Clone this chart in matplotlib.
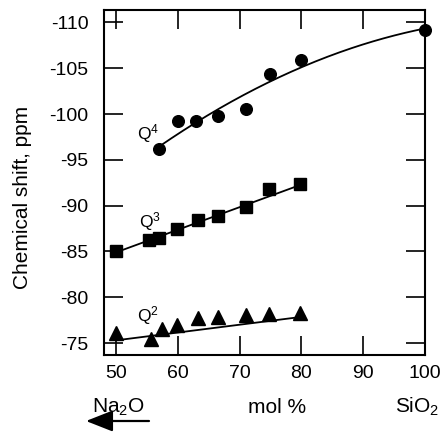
import numpy as np
import matplotlib
matplotlib.use("Agg")
import matplotlib.pyplot as plt

plt.rcParams['font.family'] = ['Liberation Sans', 'DejaVu Sans']
plt.rcParams['mathtext.fontset'] = 'custom'
plt.rcParams['mathtext.rm'] = 'Liberation Sans'
plt.rcParams['mathtext.it'] = 'Liberation Sans'
plt.rcParams['mathtext.default'] = 'regular'
plt.rcParams['axes.unicode_minus'] = False

# ---- data (mol % SiO2 vs chemical shift, ppm) ----
q4_x = [57, 60, 63, 66.5, 71, 75, 80, 100]
q4_y = [-96.2, -99.2, -99.2, -99.8, -100.6, -104.4, -105.9, -109.2]
q3_x = [50, 55.3, 57, 59.8, 63.3, 66.5, 71, 74.8, 79.8]
q3_y = [-85.0, -86.3, -86.5, -87.4, -88.4, -88.9, -89.8, -91.8, -92.4]
q2_x = [50, 55.6, 57.5, 59.8, 63.3, 66.5, 71, 74.8, 79.8]
q2_y = [-76.1, -75.4, -76.5, -77.0, -77.7, -77.8, -78.1, -78.2, -78.3]

# trend lines
q4_fit_x = [57, 67.2, 72.8, 80, 90, 100]
q4_fit_y = [-96.6, -100.6, -102.6, -105.3, -107.8, -109.2]
q3_fit_x = [50, 80]
q3_fit_y = [-84.9, -92.3]
q2_fit_x = [50, 80.5]
q2_fit_y = [-75.3, -77.9]

x_ticks = [50, 60, 70, 80, 90, 100]
y_ticks = [-110, -105, -100, -95, -90, -85, -80, -75]
y_tick_labels = ["-110", "-105", "-100", "-95", "-90", "-85", "-80", "-75"]

W, H = 444, 433
fig = plt.figure(figsize=(W / 100, H / 100), dpi=100)
ax = fig.add_axes([104 / W, 1 - 355 / H, (425 - 104) / W, (355 - 10) / H])

# Q4 quadratic trend
c4 = np.polyfit(q4_fit_x, q4_fit_y, 2)
xs = np.linspace(q4_fit_x[0], q4_fit_x[-1], 200)
ax.plot(xs, np.polyval(c4, xs), color='black', lw=1.3, zorder=2)
ax.plot(q3_fit_x, q3_fit_y, color='black', lw=1.3, zorder=2)
ax.plot(q2_fit_x, q2_fit_y, color='black', lw=1.3, zorder=2)

ax.plot(q4_x, q4_y, 'o', color='black', ms=8.4, zorder=3, clip_on=False)
ax.plot(q3_x, q3_y, 's', color='black', ms=8.0, zorder=3, clip_on=False)
ax.plot(q2_x, q2_y, '^', color='black', ms=10, zorder=3, clip_on=False)

ax.text(55.2, -97.9, r'Q$^4$', fontsize=12.5, ha='center', va='center')
ax.text(55.5, -88.3, r'Q$^3$', fontsize=12.5, ha='center', va='center')
ax.text(55.2, -78.0, r'Q$^2$', fontsize=12.5, ha='center', va='center')

ax.set_xlim(48.06, 100)
ax.set_ylim(-73.7, -111.35)
ax.set_xticks(x_ticks)
ax.set_xticklabels([str(v) for v in x_ticks])
ax.set_yticks(y_ticks)
ax.set_yticklabels(y_tick_labels)

ax.tick_params(axis='both', direction='in', length=13.5, width=1.2,
               top=True, right=True, labelsize=14, colors='black')
ax.tick_params(axis='y', pad=11)
ax.tick_params(axis='x', pad=7)
for s in ax.spines.values():
    s.set_linewidth(1.5)

fig.text(22 / W, 235.5 / H, 'Chemical shift, ppm', rotation=90,
         ha='center', va='center', fontsize=15)
fig.text(118 / W, 20 / H, r'Na$_2$O', ha='center', va='baseline', fontsize=15)
fig.text(277 / W, 20 / H, 'mol %', ha='center', va='baseline', fontsize=15)
fig.text(417 / W, 20 / H, r'SiO$_2$', ha='center', va='baseline', fontsize=15)

ax.annotate('', xy=(86, 12), xytext=(149, 12), xycoords='figure pixels',
            textcoords='figure pixels',
            arrowprops=dict(arrowstyle='-|>,head_length=0.66,head_width=0.26',
                            mutation_scale=25, lw=1.6,
                            color='black', shrinkA=0, shrinkB=0))

fig.savefig('out.png', dpi=100)
